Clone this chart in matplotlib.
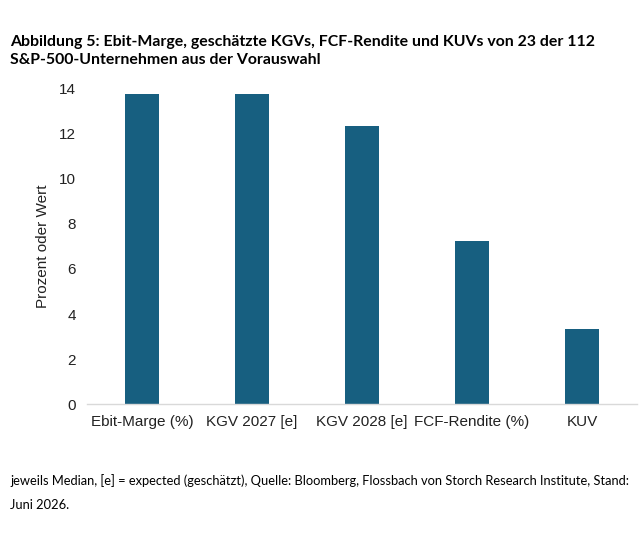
import matplotlib
matplotlib.use('Agg')
import matplotlib.pyplot as plt

categories = ['Ebit-Marge (%)', 'KGV 2027 [e]', 'KGV 2028 [e]', 'FCF-Rendite (%)', 'KUV']
values = [13.78, 13.78, 12.36, 7.24, 3.33]
yticks = [0, 2, 4, 6, 8, 10, 12, 14]

title = 'Abbildung 5: Ebit-Marge, geschätzte KGVs, FCF-Rendite und KUVs von 23 der 112\nS&P-500-Unternehmen aus der Vorauswahl'
note = 'jeweils Median, [e] = expected (geschätzt), Quelle: Bloomberg, Flossbach von Storch Research Institute, Stand:\nJuni 2026.'

bar_color = '#175F80'

fig = plt.figure(figsize=(6.43, 5.34), dpi=100)
ax = fig.add_axes([0.135, 0.2434, 0.856, 0.59])

x = range(len(categories))
ax.bar(x, values, width=0.31, color=bar_color)

ax.set_xlim(-0.5, len(categories) - 0.5)
ax.set_ylim(0, 14)
ax.set_yticks(yticks)
ax.set_xticks(list(x))
ax.set_xticklabels(categories)

for s in ['top', 'right', 'left']:
    ax.spines[s].set_visible(False)
ax.spines['bottom'].set_color('#d9d9d9')
ax.spines['bottom'].set_linewidth(1.0)

ax.tick_params(axis='both', length=0, labelsize=11, colors='#222222', labelfontfamily='Liberation Sans')
ax.tick_params(axis='x', pad=8)
ax.tick_params(axis='y', pad=8)
ax.set_ylabel('Prozent oder Wert', fontsize=11, family='Liberation Sans', color='#222222', labelpad=6)

fig.text(0.016, 0.935, title, fontsize=11.4, fontweight='bold', family='Lato',
         va='top', ha='left', linespacing=1.35)
fig.text(0.016, 0.113, note, fontsize=9.3, family='Lato', va='top', ha='left',
         linespacing=2.2)

fig.savefig('out.png', dpi=100)
